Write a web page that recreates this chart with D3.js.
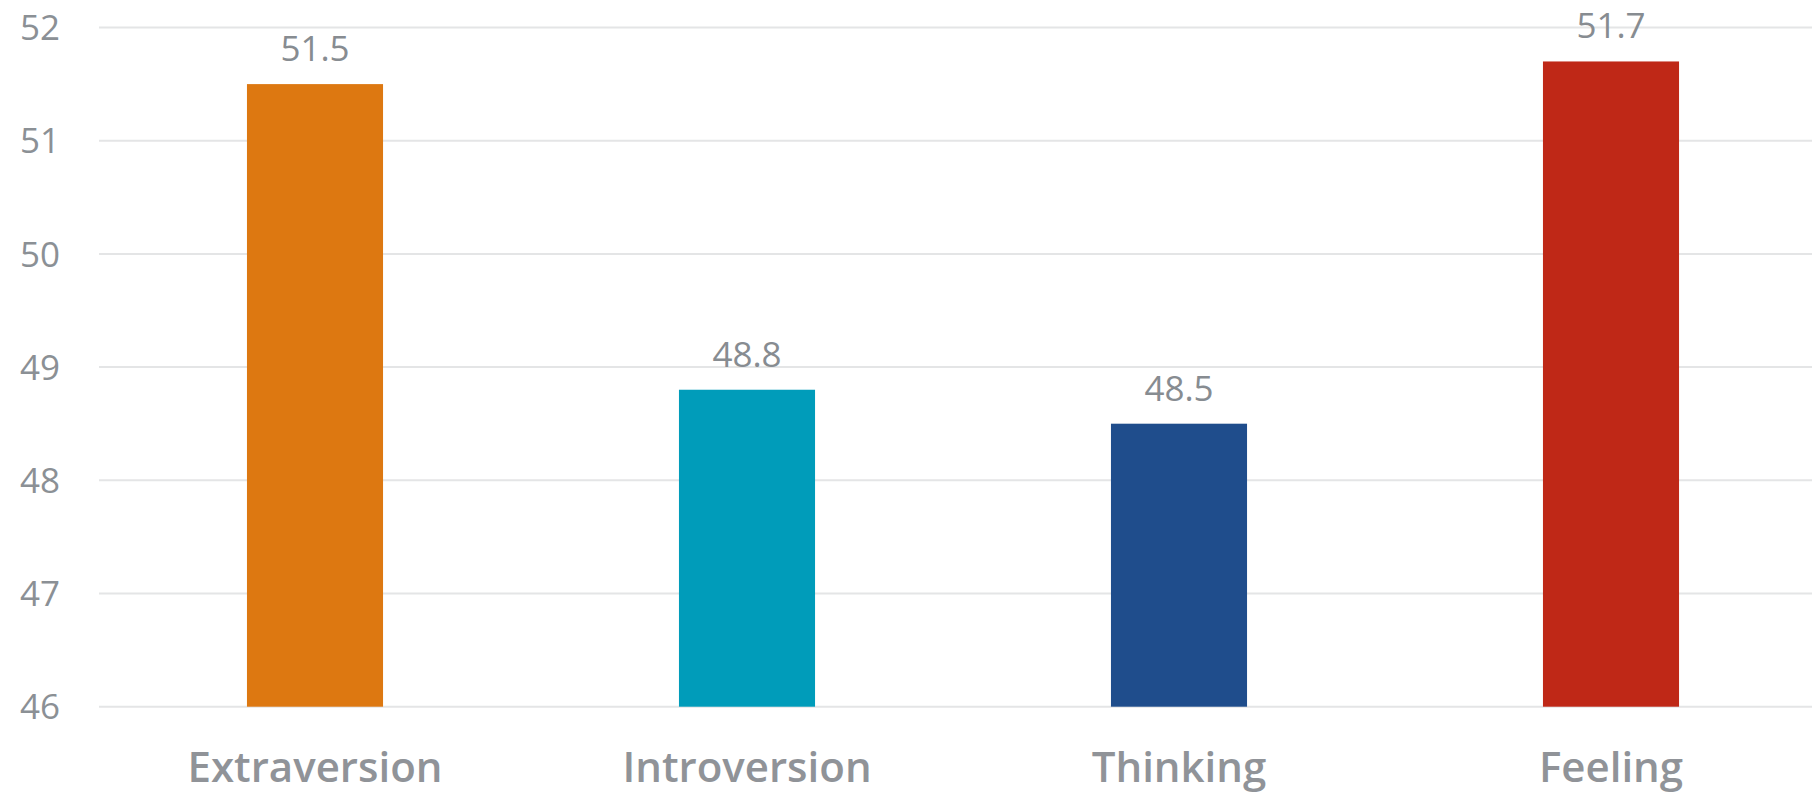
<!DOCTYPE html>
<html>
<head>
<meta charset="utf-8">
<script src="https://cdn.jsdelivr.net/npm/d3@7"></script>
<style>
  html, body { margin: 0; padding: 0; background: #ffffff; }
  svg { display: block; font-family: "Open Sans", "Noto Sans", sans-serif; }
</style>
</head>
<body>
<svg id="chart" width="1812" height="794"></svg>
<script>
// Personality trait scores
const categories = ["Extraversion", "Introversion", "Thinking", "Feeling"];
const values = [51.5, 48.8, 48.5, 51.7];
const barColors = ["#DD7811", "#009CBA", "#1F4D8C", "#BF2817"];
const yTicks = [46, 47, 48, 49, 50, 51, 52];

(function () {
  const svg = d3.select("#chart");
  const W = 1812;
  const plotLeft = 99, plotTop = 27.5, plotBottom = 706.7;

  const x = d3.scaleBand()
    .domain(categories)
    .range([plotLeft, plotLeft + 4 * 432])
    .paddingInner(0.685)
    .paddingOuter(0.3425);

  const y = d3.scaleLinear()
    .domain([46, 52])
    .range([plotBottom, plotTop]);

  // horizontal gridlines
  svg.append("g")
    .selectAll("line")
    .data(yTicks)
    .join("line")
    .attr("x1", plotLeft)
    .attr("x2", W)
    .attr("y1", d => y(d))
    .attr("y2", d => y(d))
    .attr("stroke", "#e4e5e6")
    .attr("stroke-width", 2);

  // y axis labels
  const yAxis = d3.axisLeft(y).tickValues(yTicks).tickFormat(d3.format("d")).tickSize(0).tickPadding(0);
  const gy = svg.append("g").attr("transform", "translate(60,0)").call(yAxis);
  gy.select(".domain").remove();
  gy.selectAll("text")
    .attr("font-family", "'Open Sans', sans-serif")
    .attr("font-size", 35)
    .attr("fill", "#8b9095")
    .attr("dy", "0.35em");

  // bars
  svg.append("g")
    .selectAll("rect")
    .data(values)
    .join("rect")
    .attr("x", (d, i) => x(categories[i]))
    .attr("width", x.bandwidth())
    .attr("y", d => y(d))
    .attr("height", d => y(46) - y(d))
    .attr("fill", (d, i) => barColors[i]);

  // value labels
  svg.append("g")
    .selectAll("text")
    .data(values)
    .join("text")
    .attr("x", (d, i) => x(categories[i]) + x.bandwidth() / 2)
    .attr("y", d => y(d) - 23)
    .attr("text-anchor", "middle")
    .attr("font-size", 35)
    .attr("fill", "#878c91")
    .text(d => d.toFixed(1));

  // category axis labels
  const xAxis = d3.axisBottom(x).tickSize(0).tickPadding(0);
  const gx = svg.append("g").attr("transform", `translate(0,${plotBottom})`).call(xAxis);
  gx.select(".domain").remove();
  gx.selectAll("text")
    .attr("font-family", "'Open Sans', sans-serif")
    .attr("font-size", 42)
    .attr("font-weight", 600)
    .attr("fill", "#909398")
    .attr("dy", null)
    .attr("y", 75);
})();
</script>
</body>
</html>
